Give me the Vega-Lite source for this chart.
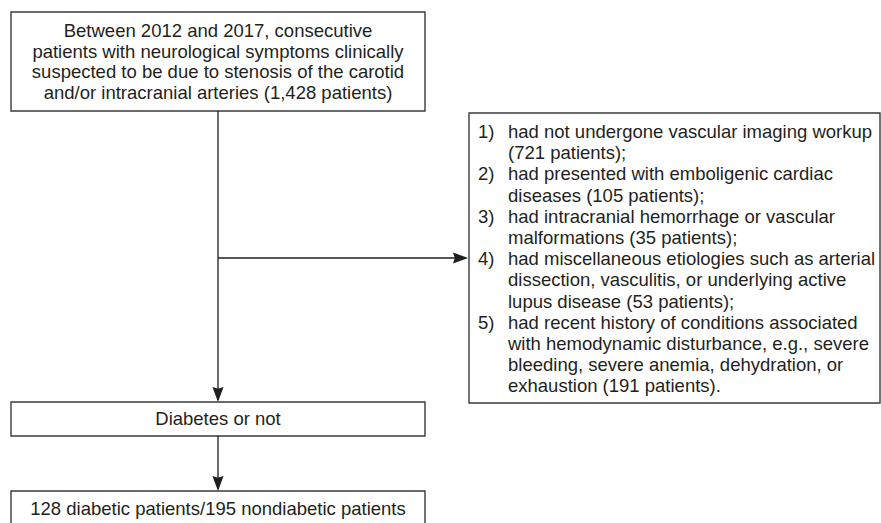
{
  "$schema": "https://vega.github.io/schema/vega-lite/v6.json",
  "width": 881,
  "height": 523,
  "autosize": {"type": "none"},
  "padding": 0,
  "background": "white",
  "config": {"view": {"stroke": null}},
  "datasets": {
    "boxes": [
      {"box": "start", "x1": 11, "x2": 425, "y1": 12, "y2": 111},
      {"box": "excluded", "x1": 469, "x2": 880, "y1": 113, "y2": 403},
      {"box": "diabetes", "x1": 11, "x2": 425, "y1": 402, "y2": 436},
      {"box": "result", "x1": 11, "x2": 425, "y1": 491, "y2": 540}
    ],
    "links": [
      {"link": "main", "x1": 218, "x2": 218, "y1": 111, "y2": 400},
      {"link": "exclude", "x1": 218, "x2": 466, "y1": 258, "y2": 258},
      {"link": "group", "x1": 218, "x2": 218, "y1": 436, "y2": 489}
    ],
    "heads": [
      {"dir": "down", "x": 218, "y": 402},
      {"dir": "right", "x": 468, "y": 258},
      {"dir": "down", "x": 218, "y": 491}
    ],
    "centered": [
      {"t": "Between 2012 and 2017, consecutive", "x": 218, "y": 37},
      {"t": "patients with neurological symptoms clinically", "x": 218, "y": 57.5},
      {"t": "suspected to be due to stenosis of the carotid", "x": 218, "y": 78},
      {"t": "and/or intracranial arteries (1,428 patients)", "x": 218, "y": 98.5},
      {"t": "Diabetes or not", "x": 218, "y": 425},
      {"t": "128 diabetic patients/195 nondiabetic patients", "x": 218, "y": 515}
    ],
    "left": [
      {"t": "1)", "x": 478, "y": 138},
      {"t": "had not undergone vascular imaging workup", "x": 508, "y": 138},
      {"t": "(721 patients);", "x": 508, "y": 159.2},
      {"t": "2)", "x": 478, "y": 180.4},
      {"t": "had presented with emboligenic cardiac", "x": 508, "y": 180.4},
      {"t": "diseases (105 patients);", "x": 508, "y": 201.6},
      {"t": "3)", "x": 478, "y": 222.8},
      {"t": "had intracranial hemorrhage or vascular", "x": 508, "y": 222.8},
      {"t": "malformations (35 patients);", "x": 508, "y": 244},
      {"t": "4)", "x": 478, "y": 265.2},
      {"t": "had miscellaneous etiologies such as arterial", "x": 508, "y": 265.2},
      {"t": "dissection, vasculitis, or underlying active", "x": 508, "y": 286.4},
      {"t": "lupus disease (53 patients);", "x": 508, "y": 307.6},
      {"t": "5)", "x": 478, "y": 328.8},
      {"t": "had recent history of conditions associated", "x": 508, "y": 328.8},
      {"t": "with hemodynamic disturbance, e.g., severe", "x": 508, "y": 350},
      {"t": "bleeding, severe anemia, dehydration, or", "x": 508, "y": 371.2},
      {"t": "exhaustion (191 patients).", "x": 508, "y": 392.4}
    ]
  },
  "layer": [
    {
      "data": {"name": "boxes"},
      "mark": {"type": "rect", "fill": "white", "stroke": "#3a3a3a", "strokeWidth": 1.4},
      "encoding": {
        "x": {"field": "x1", "type": "quantitative", "scale": {"domain": [0, 881]}, "axis": null},
        "x2": {"field": "x2"},
        "y": {"field": "y1", "type": "quantitative", "scale": {"domain": [0, 523], "reverse": true}, "axis": null},
        "y2": {"field": "y2"}
      }
    },
    {
      "data": {"name": "links"},
      "mark": {"type": "rule", "stroke": "#1e1e1e", "strokeWidth": 1.3},
      "encoding": {
        "x": {"field": "x1", "type": "quantitative", "scale": {"domain": [0, 881]}, "axis": null},
        "x2": {"field": "x2"},
        "y": {"field": "y1", "type": "quantitative", "scale": {"domain": [0, 523], "reverse": true}, "axis": null},
        "y2": {"field": "y2"}
      }
    },
    {
      "data": {"name": "heads"},
      "transform": [{"filter": "datum.dir === 'down'"}],
      "mark": {"type": "point", "filled": true, "fill": "#1e1e1e", "strokeWidth": 0, "opacity": 1, "size": 900, "shape": "M0,0L-0.37,-1L0,-0.88L0.37,-1Z"},
      "encoding": {
        "x": {"field": "x", "type": "quantitative", "scale": {"domain": [0, 881]}, "axis": null},
        "y": {"field": "y", "type": "quantitative", "scale": {"domain": [0, 523], "reverse": true}, "axis": null}
      }
    },
    {
      "data": {"name": "heads"},
      "transform": [{"filter": "datum.dir === 'right'"}],
      "mark": {"type": "point", "filled": true, "fill": "#1e1e1e", "strokeWidth": 0, "opacity": 1, "size": 900, "shape": "M0,0L-1,-0.37L-0.88,0L-1,0.37Z"},
      "encoding": {
        "x": {"field": "x", "type": "quantitative", "scale": {"domain": [0, 881]}, "axis": null},
        "y": {"field": "y", "type": "quantitative", "scale": {"domain": [0, 523], "reverse": true}, "axis": null}
      }
    },
    {
      "data": {"name": "centered"},
      "mark": {"type": "text", "align": "center", "baseline": "alphabetic", "font": "Liberation Sans", "fontSize": 18.5, "fill": "#231f20"},
      "encoding": {
        "x": {"field": "x", "type": "quantitative", "scale": {"domain": [0, 881]}, "axis": null},
        "y": {"field": "y", "type": "quantitative", "scale": {"domain": [0, 523], "reverse": true}, "axis": null},
        "text": {"field": "t", "type": "nominal"}
      }
    },
    {
      "data": {"name": "left"},
      "mark": {"type": "text", "align": "left", "baseline": "alphabetic", "font": "Liberation Sans", "fontSize": 18.5, "fill": "#231f20"},
      "encoding": {
        "x": {"field": "x", "type": "quantitative", "scale": {"domain": [0, 881]}, "axis": null},
        "y": {"field": "y", "type": "quantitative", "scale": {"domain": [0, 523], "reverse": true}, "axis": null},
        "text": {"field": "t", "type": "nominal"}
      }
    }
  ]
}
